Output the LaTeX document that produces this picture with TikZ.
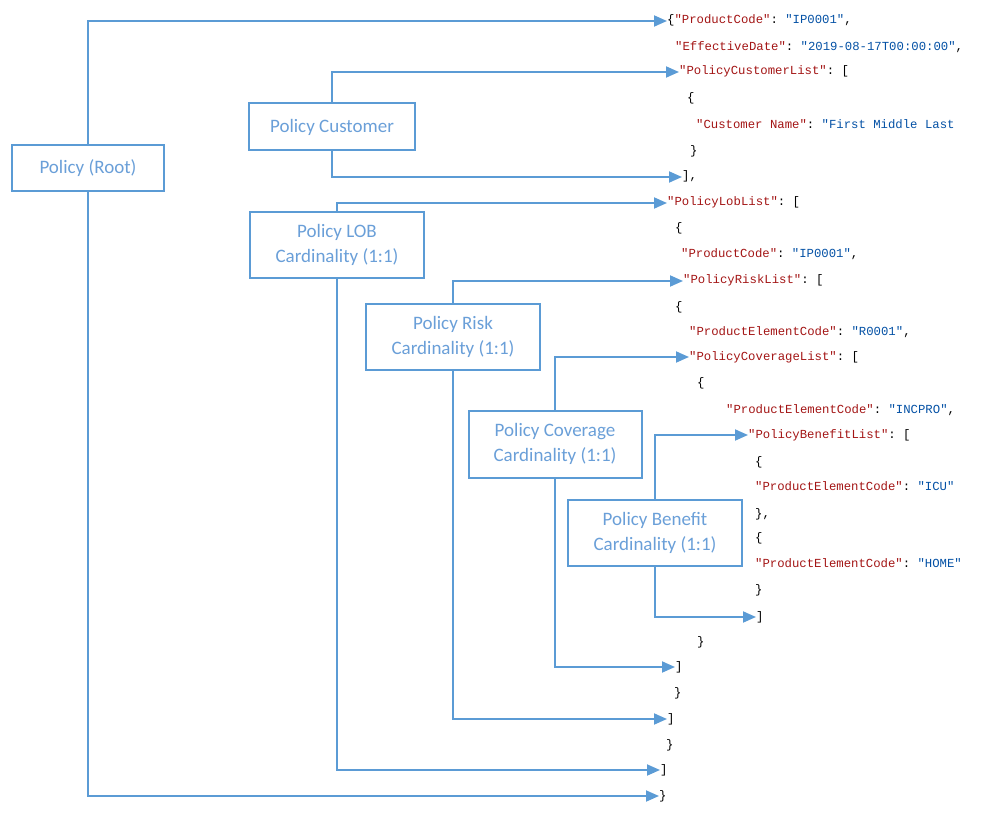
\documentclass[tikz,border=0pt]{standalone}
\usepackage{fontspec}
\setmainfont{Carlito}
\setmonofont{Liberation Mono}
\usepackage{xcolor}
\definecolor{linkblue}{HTML}{5B9BD5}
\definecolor{cardtext}{HTML}{6A9FD8}
\definecolor{jsonkey}{HTML}{A31515}
\definecolor{jsonval}{HTML}{0451A5}
\usetikzlibrary{arrows.meta}
\newcommand{\jk}[1]{\textcolor{jsonkey}{#1}}
\newcommand{\jv}[1]{\textcolor{jsonval}{#1}}

\begin{document}
\begin{tikzpicture}[
            x=1pt,y=-1pt,
            card/.style={draw=linkblue, line width=2pt, text=cardtext, align=center, inner sep=0pt,
                font=\fontsize{19}{25}\selectfont, minimum width=174pt, minimum height=66pt},
            js/.style={anchor=west, inner sep=0pt, font=\ttfamily\fontsize{12.3}{14}\selectfont,
                text height=9pt, text depth=3pt},
            link/.style={draw=linkblue, line width=1.8pt, -{Triangle[length=13pt,width=11pt]}}
        ]
            \useasboundingbox (0,0) rectangle (994,821);

            % model boxes
            \node[card, minimum width=152pt, minimum height=46pt] (root) at (88,168) {Policy (Root)};
            \node[card, minimum width=166pt, minimum height=47pt] (cust) at (332,127) {Policy Customer};
            \node[card] (lob) at (337,245) {Policy LOB\\Cardinality (1:1)};
            \node[card] (risk) at (453,337) {Policy Risk\\Cardinality (1:1)};
            \node[card, minimum width=173pt, minimum height=67pt] (cov) at (555,444) {Policy Coverage\\Cardinality (1:1)};
            \node[card] (ben) at (655,533) {Policy Benefit\\Cardinality (1:1)};

            % json lines
            \node[js] (j1) at (667,21) {\{\jk{"ProductCode"}: \jv{"IP0001"},};
            \node[js] (j2) at (675,48) {\jk{"EffectiveDate"}: \jv{"2019-08-17T00:00:00"},};
            \node[js] (j3) at (679,72) {\jk{"PolicyCustomerList"}: [};
            \node[js] (j4) at (687,99) {\{};
            \node[js] (j5) at (696,126) {\jk{"Customer Name"}: \jv{"First Middle Last}};
            \node[js] (j6) at (690,152) {\}};
            \node[js] (j7) at (682,177) {],};
            \node[js] (j8) at (667,203) {\jk{"PolicyLobList"}: [};
            \node[js] (j9) at (675,229) {\{};
            \node[js] (j10) at (681,255) {\jk{"ProductCode"}: \jv{"IP0001"},};
            \node[js] (j11) at (683,281) {\jk{"PolicyRiskList"}: [};
            \node[js] (j12) at (675,307) {\{};
            \node[js] (j13) at (689,332) {\jk{"ProductElementCode"}: \jv{"R0001"},};
            \node[js] (j14) at (689,357) {\jk{"PolicyCoverageList"}: [};
            \node[js] (j15) at (697,383) {\{};
            \node[js] (j16) at (726,410) {\jk{"ProductElementCode"}: \jv{"INCPRO"},};
            \node[js] (j17) at (748,435) {\jk{"PolicyBenefitList"}: [};
            \node[js] (j18) at (755,462) {\{};
            \node[js] (j19) at (755,487) {\jk{"ProductElementCode"}: \jv{"ICU"}};
            \node[js] (j20) at (755,514) {\},};
            \node[js] (j21) at (755,538) {\{};
            \node[js] (j22) at (755,564) {\jk{"ProductElementCode"}: \jv{"HOME"}};
            \node[js] (j23) at (755,590) {\}};
            \node[js] (j24) at (756,617) {]};
            \node[js] (j25) at (697,642) {\}};
            \node[js] (j26) at (675,667) {]};
            \node[js] (j27) at (674,693) {\}};
            \node[js] (j28) at (667,719) {]};
            \node[js] (j29) at (666,745) {\}};
            \node[js] (j30) at (660,770) {]};
            \node[js] (j31) at (659,796) {\}};

            % opening links
            \draw[link] (root.north) |- (j1.west);
            \draw[link] (cust.north) |- (j3.west);
            \draw[link] (lob.north) |- (j8.west);
            \draw[link] (risk.north) |- (j11.west);
            \draw[link] (cov.north) |- (j14.west);
            \draw[link] (ben.north) |- (j17.west);

            % closing links
            \draw[link] (root.south) |- (j31.west);
            \draw[link] (cust.south) |- (j7.west);
            \draw[link] (lob.south) |- (j30.west);
            \draw[link] (risk.south) |- (j28.west);
            \draw[link] (cov.south) |- (j26.west);
            \draw[link] (ben.south) |- (j24.west);
        \end{tikzpicture}
\end{document}
